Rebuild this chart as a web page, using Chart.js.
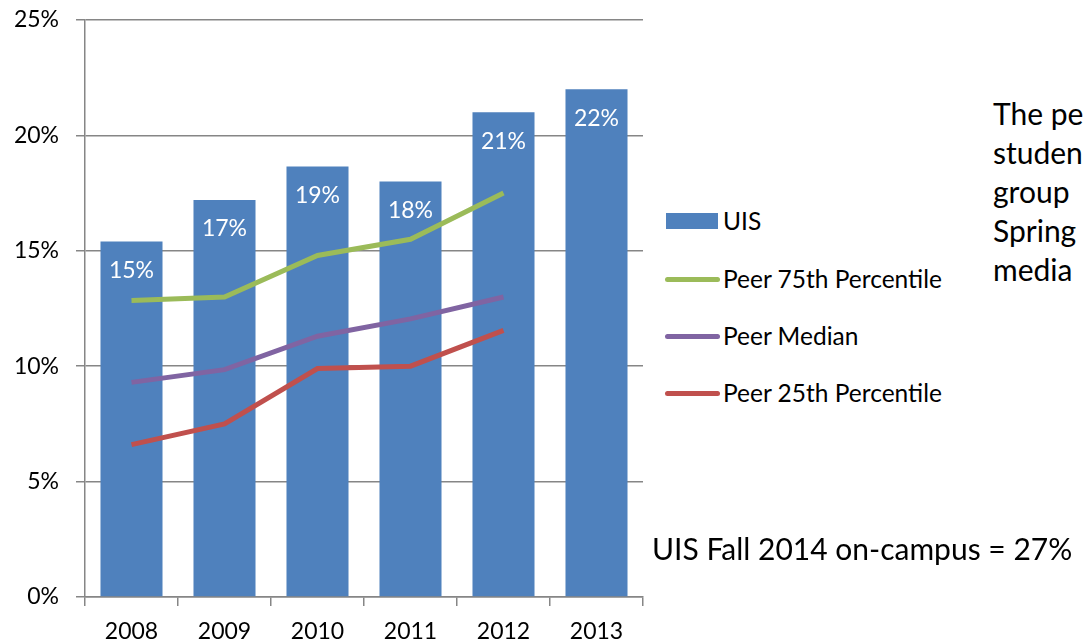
<!DOCTYPE html>
<html>
<head>
<meta charset="utf-8">
<script src="https://cdn.jsdelivr.net/npm/chart.js@4"></script>
<style>
  html, body { margin: 0; padding: 0; background: #fff; overflow: hidden; }
  body { width: 1083px; height: 642px; position: relative; font-family: Lato, sans-serif; color: #000; }
  #wrap { position: absolute; left: 0; top: 0; width: 660px; height: 642px; }
  #legend { position: absolute; left: 665px; top: 0; }
  .item { position: absolute; left: 0; white-space: nowrap; font-size: 24.5px; height: 30px; line-height: 30px; }
  .sw { position: absolute; left: 0; }
  .item span { position: absolute; left: 58px; top: 0; }
  #note { position: absolute; left: 993px; top: 94px; font-size: 30px; line-height: 39px; white-space: nowrap; }
  #foot { position: absolute; left: 652px; top: 528px; font-size: 30px; line-height: 40px; white-space: nowrap; }
</style>
</head>
<body>
<div id="wrap"><canvas id="chart"></canvas></div>
<div id="legend"></div>
<div id="note">The pe<br>studen<br>group<br>Spring<br>media</div>
<div id="foot">UIS Fall 2014 on-campus = 27%</div>
<script>
// data
const years = ['2008', '2009', '2010', '2011', '2012', '2013'];
const uis = [15.4, 17.2, 18.65, 18.0, 21.0, 22.0];
const peer75 = [12.85, 13.0, 14.8, 15.5, 17.5, null];
const peerMedian = [9.3, 9.85, 11.3, 12.05, 13.0, null];
const peer25 = [6.6, 7.5, 9.9, 10.0, 11.55, null];
const yTicks = [0, 5, 10, 15, 20, 25];

const blue = '#4F81BD';
const green = '#9BBB59';
const purple = '#8064A2';
const red = '#C0504D';
const gridColor = '#868686';
const font = 'Lato';

// white % labels inside the bars
const barLabels = {
  id: 'barLabels',
  afterDatasetsDraw(chart) {
    const ctx = chart.ctx;
    const meta = chart.getDatasetMeta(3); // the UIS bars
    ctx.save();
    ctx.fillStyle = '#ffffff';
    ctx.font = '23px ' + font;
    ctx.textAlign = 'center';
    ctx.textBaseline = 'middle';
    meta.data.forEach((bar, i) => {
      ctx.fillText(Math.round(uis[i]) + '%', bar.x, bar.y + 29);
    });
    ctx.restore();
  }
};

const chart = new Chart(document.getElementById('chart'), {
  type: 'bar',
  data: {
    labels: years,
    datasets: [
      { type: 'line', label: 'Peer 75th Percentile', data: peer75, borderColor: green, borderWidth: 5, pointRadius: 0, tension: 0, order: 1 },
      { type: 'line', label: 'Peer Median', data: peerMedian, borderColor: purple, borderWidth: 5, pointRadius: 0, tension: 0, order: 2 },
      { type: 'line', label: 'Peer 25th Percentile', data: peer25, borderColor: red, borderWidth: 5, pointRadius: 0, tension: 0, order: 3 },
      { label: 'UIS', data: uis, backgroundColor: blue, categoryPercentage: 1, barPercentage: 0.667, order: 10 }
    ]
  },
  options: {
    responsive: true,
    maintainAspectRatio: false,
    animation: false,
    layout: { autoPadding: false, padding: { top: 20, right: 17, left: 0, bottom: 0 } },
    plugins: {
      legend: { display: false },
      tooltip: { enabled: false }
    },
    scales: {
      x: {
        grid: { display: true, drawOnChartArea: false, offset: true, color: gridColor, lineWidth: 1.5, tickLength: 9 },
        border: { color: gridColor, width: 1.5 },
        ticks: { color: '#000', font: { family: font, size: 23 }, padding: 12 },
        afterFit(scale) { scale.height = 45; }
      },
      y: {
        min: 0,
        max: 25,
        afterBuildTicks(scale) { scale.ticks = yTicks.map(v => ({ value: v })); },
        grid: { color: gridColor, lineWidth: 1.5, tickLength: 9 },
        border: { color: gridColor, width: 1.5 },
        ticks: { color: '#000', font: { family: font, size: 23 }, padding: 17, callback: v => v + '%' },
        afterFit(scale) {
          scale.width = 85;
          scale.paddingTop = 0;
          scale.paddingBottom = 0;
        }
      }
    }
  },
  plugins: [barLabels]
});

// legend in html, same order as the picture
const legendItems = [
  { label: 'UIS', color: blue, kind: 'box', y: 221 },
  { label: 'Peer 75th Percentile', color: green, kind: 'line', y: 279 },
  { label: 'Peer Median', color: purple, kind: 'line', y: 336 },
  { label: 'Peer 25th Percentile', color: red, kind: 'line', y: 393 }
];
const legend = document.getElementById('legend');
legendItems.forEach(it => {
  const d = document.createElement('div');
  d.className = 'item';
  d.style.top = (it.y - 15) + 'px';
  const sw = document.createElement('div');
  sw.className = 'sw';
  if (it.kind === 'box') {
    sw.style.cssText = `left:1px;top:7px;width:52px;height:16px;background:${it.color}`;
  } else {
    sw.style.cssText = `left:0;top:13px;width:55px;height:5px;border-radius:3px;background:${it.color}`;
  }
  const t = document.createElement('span');
  t.textContent = it.label;
  d.appendChild(sw);
  d.appendChild(t);
  legend.appendChild(d);
});
</script>
</body>
</html>
